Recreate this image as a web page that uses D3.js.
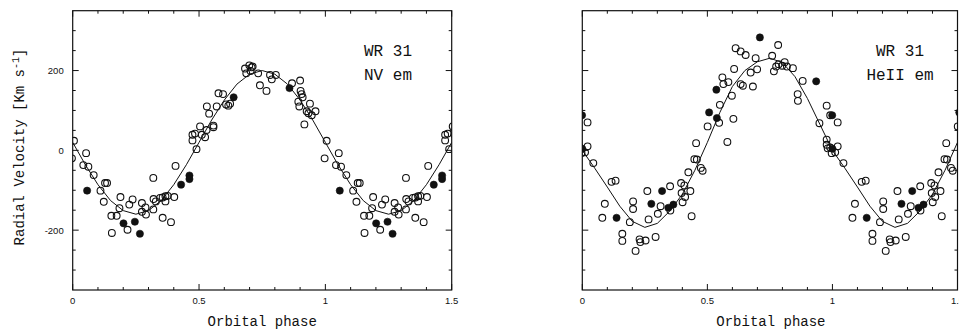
<!DOCTYPE html>
<html>
<head>
<meta charset="utf-8">
<script src="https://cdn.jsdelivr.net/npm/d3@7/dist/d3.min.js"></script>
<style>
  html, body { margin: 0; padding: 0; background: #fff; overflow: hidden; }
  svg { display: block; }
  .mono { font-family: "Courier New", "Nimbus Mono PS", "FreeMono", "Liberation Mono", monospace; }
  .tick-lbl { font-family: "Liberation Sans", Arial, Helvetica, sans-serif; font-size: 9.5px; fill: #111; }
</style>
</head>
<body>
<div id="chart"></div>
<script>
// phase, velocity (km/s), phases folded into [0, 1)
const nvOpen = [
  [0.005, 24], [0.997, -20], [0.042, -37], [0.053, -7], [0.062, -41], [0.083, -62],
  [0.110, -101], [0.123, -129], [0.128, -82], [0.136, -82], [0.153, -164], [0.155, -207],
  [0.174, -164], [0.185, -145], [0.189, -117], [0.217, -199], [0.224, -136], [0.237, -123],
  [0.274, -132], [0.274, -154], [0.288, -143], [0.290, -161], [0.319, -69], [0.320, -122],
  [0.319, -148], [0.329, -128], [0.346, -119], [0.356, -118], [0.356, -169], [0.367, -115],
  [0.367, -128], [0.376, -114], [0.389, -180], [0.402, -117], [0.407, -39], [0.474, 39],
  [0.484, 42], [0.474, 25], [0.490, 3], [0.504, 60], [0.511, 39], [0.524, 33], [0.530, 51],
  [0.531, 110], [0.540, 92], [0.557, 62], [0.557, 58], [0.570, 110], [0.577, 143],
  [0.595, 141], [0.607, 115], [0.616, 112], [0.623, 117], [0.682, 205], [0.687, 193],
  [0.699, 213], [0.704, 199], [0.708, 208], [0.712, 210], [0.734, 193], [0.741, 163],
  [0.767, 149], [0.781, 189], [0.788, 178], [0.804, 189], [0.868, 168], [0.900, 175],
  [0.902, 149], [0.906, 141], [0.910, 133], [0.893, 122], [0.897, 110], [0.917, 65],
  [0.926, 98], [0.933, 93], [0.939, 117], [0.946, 88], [0.961, 98]
];
const nvFilled = [
  [0.057, -101], [0.201, -183], [0.246, -179], [0.266, -209], [0.429, -86],
  [0.462, -63], [0.462, -72], [0.637, 133], [0.858, 156]
];
const heOpen = [
  [0.011, -5], [0.021, 10], [0.021, 70], [0.044, -32], [0.080, -169], [0.090, -134],
  [0.117, -79], [0.133, -76], [0.160, -209], [0.160, -227], [0.190, -180], [0.203, -128],
  [0.203, -147], [0.213, -252], [0.229, -223], [0.232, -230], [0.253, -226], [0.260, -102],
  [0.265, -173], [0.293, -217], [0.302, -159], [0.313, -140], [0.351, -90], [0.352, -151],
  [0.395, -82], [0.397, -107], [0.401, -130], [0.408, -88], [0.411, -117], [0.424, -55],
  [0.432, -102], [0.437, -165], [0.448, -22], [0.458, -23], [0.455, 18], [0.474, -44],
  [0.481, -51], [0.501, 60], [0.547, 69], [0.550, 114], [0.560, 183], [0.564, 166],
  [0.580, 21], [0.584, 171], [0.598, 137], [0.604, 79], [0.607, 204], [0.613, 256],
  [0.633, 248], [0.653, 239], [0.633, 166], [0.642, 162], [0.673, 195], [0.682, 160],
  [0.693, 231], [0.699, 203], [0.759, 237], [0.766, 198], [0.775, 210], [0.783, 264],
  [0.785, 216], [0.799, 212], [0.809, 221], [0.818, 210], [0.842, 206], [0.861, 141],
  [0.862, 124], [0.881, 174], [0.948, 68], [0.977, 112], [0.991, 88], [0.977, 27],
  [0.977, 14], [0.981, 5], [0.991, 7], [0.997, -7]
];
const heFilled = [
  [0.000, 4], [0.999, 88], [0.137, -169], [0.276, -134], [0.319, -102], [0.344, -144],
  [0.364, -136], [0.507, 95], [0.536, 152], [0.538, 81], [0.710, 283], [0.935, 173]
];

// fitted orbit curves, sampled every 0.05 in phase
const curvePhase = [0, 0.05, 0.1, 0.15, 0.2, 0.25, 0.3, 0.35, 0.4, 0.45, 0.5,
                    0.55, 0.6, 0.65, 0.7, 0.75, 0.8, 0.85, 0.9, 0.95, 1.0];
const nvCurve = [20, -36, -86, -126, -151, -160, -151, -126, -86, -36, 20,
                 76, 126, 166, 191, 200, 191, 166, 126, 76, 20];
const heCurve = [0, -45, -92, -140, -178, -193, -183, -152, -110, -50, 20,
                 95, 160, 200, 222, 231, 220, 185, 130, 65, 0];

const xTickValues = [0, 0.5, 1, 1.5];
const xTickLabels = ['0', '0.5', '1', '1.5'];
const yTickValues = [-200, 0, 200];
const yTickLabels = ['-200', '0', '200'];

const W = 959, H = 331;
const svg = d3.select('#chart').append('svg').attr('width', W).attr('height', H);
const defs = svg.append('defs');

function unfold(pts) {
  // each point is shown at phase, phase-1 and phase+1 where it lands in the window
  return pts.flatMap(([p, v]) => [[p - 1, v], [p, v], [p + 1, v]])
    .filter(([p]) => p > -0.03 && p < 1.53);
}

function drawPanel(cfg) {
  const x = d3.scaleLinear().domain([0, 1.5]).range([cfg.left, cfg.right]);
  const y = d3.scaleLinear().domain([-350, 350]).range([290, 10.7]);
  const g = svg.append('g');

  defs.append('clipPath').attr('id', cfg.id)
    .append('rect').attr('x', cfg.left).attr('y', 10.7)
    .attr('width', cfg.right - cfg.left).attr('height', 290 - 10.7);

  // ticks on all four sides, pointing inward
  const xMinor = d3.range(0, 1.501, 0.1);
  const yMinor = d3.range(-300, 301, 50);
  const isMajX = v => xTickValues.some(t => Math.abs(t - v) < 1e-6);
  const isMajY = v => yTickValues.includes(v);
  const tk = g.append('g').attr('stroke', '#111').attr('stroke-width', 1);
  xMinor.forEach(v => {
    const len = isMajX(v) ? 6 : 3;
    tk.append('line').attr('x1', x(v)).attr('x2', x(v)).attr('y1', y.range()[0]).attr('y2', y.range()[0] - len);
    tk.append('line').attr('x1', x(v)).attr('x2', x(v)).attr('y1', y.range()[1]).attr('y2', y.range()[1] + len);
  });
  yMinor.forEach(v => {
    const len = isMajY(v) ? 6 : 3;
    tk.append('line').attr('x1', cfg.left).attr('x2', cfg.left + len).attr('y1', y(v)).attr('y2', y(v));
    tk.append('line').attr('x1', cfg.right).attr('x2', cfg.right - len).attr('y1', y(v)).attr('y2', y(v));
  });

  g.append('rect').attr('x', cfg.left).attr('y', y.range()[1])
    .attr('width', cfg.right - cfg.left).attr('height', y.range()[0] - y.range()[1])
    .attr('fill', 'none').attr('stroke', '#111').attr('stroke-width', 1.2);

  g.selectAll('.xl').data(xTickValues).join('text').attr('class', 'tick-lbl')
    .attr('x', d => x(d)).attr('y', 304).attr('text-anchor', 'middle')
    .text((d, i) => xTickLabels[i]);

  if (cfg.yLabels) {
    g.selectAll('.yl').data(yTickValues).join('text').attr('class', 'tick-lbl')
      .attr('x', cfg.left - 9).attr('y', d => y(d) + 3.4).attr('text-anchor', 'end')
      .text((d, i) => yTickLabels[i]);
    g.append('text').attr('class', 'mono')
      .attr('transform', `translate(24,147) rotate(-90)`)
      .attr('text-anchor', 'middle').style('font-size', '14px').attr('fill', '#111')
      .text('Radial Velocity [Km s')
      .append('tspan').attr('dy', -5).style('font-size', '10px').text('-1')
      .select(function () { return this.parentNode; })
      .append('tspan').attr('dy', 5).style('font-size', '14px').text(']');
  }

  g.append('text').attr('class', 'mono')
    .attr('x', (cfg.left + cfg.right) / 2 + cfg.titleShift).attr('y', 326).attr('text-anchor', 'middle')
    .style('font-size', '14px').attr('fill', '#111').text('Orbital phase');

  const plot = g.append('g').attr('clip-path', `url(#${cfg.id})`);

  const curvePts = curvePhase.map((p, i) => [p, cfg.curve[i]])
    .concat(curvePhase.filter(p => p > 0 && p <= 0.5).map(p => [p + 1, cfg.curve[curvePhase.indexOf(p)]]));
  plot.append('path').datum(curvePts)
    .attr('d', d3.line().x(d => x(d[0])).y(d => y(d[1])))
    .attr('fill', 'none').attr('stroke', '#111').attr('stroke-width', 1);

  plot.selectAll('.o').data(unfold(cfg.open)).join('circle')
    .attr('cx', d => x(d[0])).attr('cy', d => y(d[1])).attr('r', 3.4)
    .attr('fill', '#fff').attr('fill-opacity', 0).attr('stroke', '#111').attr('stroke-width', 1.1);
  plot.selectAll('.f').data(unfold(cfg.filled)).join('circle')
    .attr('cx', d => x(d[0])).attr('cy', d => y(d[1])).attr('r', 3.6)
    .attr('fill', '#111').attr('stroke', '#111').attr('stroke-width', 0.6);

  cfg.tag.forEach((t, i) => {
    g.append('text').attr('class', 'mono')
      .attr('x', cfg.tagX).attr('y', 56 + i * 24).attr('text-anchor', 'middle')
      .style('font-size', '16px').attr('fill', '#111').text(t);
  });
}

drawPanel({ id: 'clipNV', left: 72.7, right: 451.7, curve: nvCurve, open: nvOpen, filled: nvFilled,
  yLabels: true, tag: ['WR 31', 'NV em'], tagX: 388, titleShift: 0 });
drawPanel({ id: 'clipHe', left: 582.3, right: 957.5, curve: heCurve, open: heOpen, filled: heFilled,
  yLabels: false, tag: ['WR 31', 'HeII em'], tagX: 900, titleShift: 1 });
</script>
</body>
</html>
